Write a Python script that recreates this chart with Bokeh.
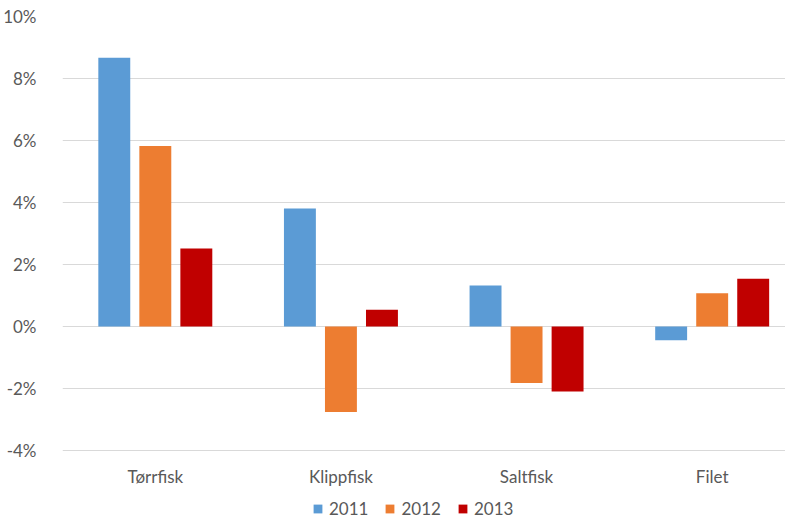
from bokeh.plotting import figure
from bokeh.models import ColumnDataSource, Range1d, Legend, LegendItem, NumeralTickFormatter, FixedTicker
from bokeh.core.properties import value
from bokeh.transform import dodge
from bokeh.embed import file_html
from bokeh.resources import INLINE

categories = ["Tørrfisk", "Klippfisk", "Saltfisk", "Filet"]
cat_pos = [0.5, 1.5, 2.5, 3.5]
years = ["2011", "2012", "2013"]
v2011 = [0.0867, 0.0381, 0.0132, -0.0044]
v2012 = [0.0582, -0.0276, -0.0182, 0.0107]
v2013 = [0.0252, 0.0054, -0.0210, 0.0154]
colors = ["#5B9BD5", "#ED7D31", "#C00000"]
y_ticks = [-0.04, -0.02, 0.0, 0.02, 0.04, 0.06, 0.08, 0.10]
label_y = -0.0484

src = ColumnDataSource(dict(x=cat_pos, cat=categories, ly=[label_y] * 4,
                            y2011=v2011, y2012=v2012, y2013=v2013))

FONT = "Lato"
p = figure(x_range=Range1d(0, 3.895), y_range=Range1d(-0.06226, 0.10),
           width=785, height=519, output_backend="svg", toolbar_location=None,
           min_border_left=62, min_border_top=16, min_border_right=0, min_border_bottom=0)

renderers = []
offsets = [-0.221, 0.0, 0.221]
for yr, col, off in zip(years, colors, offsets):
    r = p.vbar(x=dodge("x", off), top="y" + yr, bottom=0, width=0.172,
               source=src, fill_color=col, line_color=None)
    renderers.append(r)

p.text(x="x", y="ly", text="cat", source=src, text_align="center", text_baseline="middle",
       text_font=value(FONT), text_font_size="17px", text_color="#595959")

p.outline_line_color = None
p.xaxis.visible = False
p.xgrid.grid_line_color = None
p.ygrid.grid_line_color = "#D9D9D9"
p.ygrid.grid_line_width = 1
p.yaxis.ticker = FixedTicker(ticks=y_ticks)
p.ygrid.ticker = FixedTicker(ticks=y_ticks)
p.yaxis.formatter = NumeralTickFormatter(format="0%")
p.yaxis.axis_line_color = None
p.yaxis.major_tick_line_color = None
p.yaxis.minor_tick_line_color = None
p.yaxis.major_label_text_font = FONT
p.yaxis.major_label_text_font_size = "17px"
p.yaxis.major_label_text_color = "#595959"
p.yaxis.major_label_standoff = 20

legend = Legend(items=[LegendItem(label=y, renderers=[r]) for y, r in zip(years, renderers)],
                orientation="horizontal", location=(250, 0), border_line_color=None,
                background_fill_alpha=0,
                label_text_font=FONT, label_text_font_size="17px", label_text_color="#595959",
                label_height=18, glyph_width=11, glyph_height=11, spacing=16, label_standoff=6,
                padding=0, margin=0)
p.add_layout(legend, "center")

open("out.html", "w").write(file_html(p, INLINE))
